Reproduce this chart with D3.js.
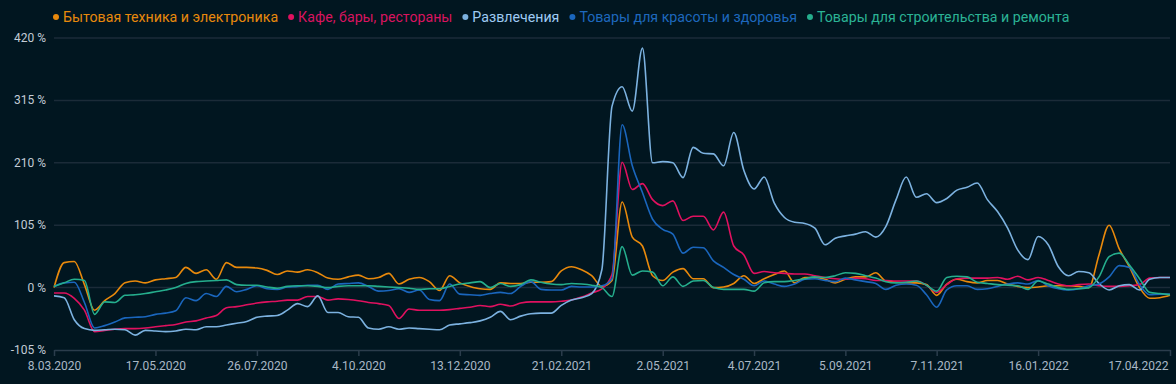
<!DOCTYPE html>
<html>
<head>
<meta charset="utf-8">
<script src="https://cdn.jsdelivr.net/npm/d3@7/dist/d3.min.js"></script>
<style>
  html, body { margin: 0; padding: 0; background: #011620; }
  svg { display: block; }
</style>
</head>
<body>
<div id="chart"></div>
<script>
// weekly data, % change
var startDate = new Date(2020, 2, 8);
var tickLabels = ["8.03.2020", "17.05.2020", "26.07.2020", "4.10.2020", "13.12.2020", "21.02.2021",
  "2.05.2021", "4.07.2021", "5.09.2021", "7.11.2021", "16.01.2022", "17.04.2022"];
var yTicks = [-105, 0, 105, 210, 315, 420];

var seriesNames = ["Бытовая техника и электроника", "Кафе, бары, рестораны", "Развлечения",
  "Товары для красоты и здоровья", "Товары для строительства и ремонта"];

var appliances = [0, 42, 44, 5, -38, -22, -10, 8, 11, 8, 13, 15, 17, 34, 24, 30, 14, 42, 34, 34,
  33, 29, 22, 28, 26, 30, 25, 16, 14, 18, 21, 15, 17, 24, 6, 14, 17, 10, -5, 20,
  8, 2, -2, -3, 8, 7, 7, 9, 9, 10, 28, 35, 30, 20, 2, 12, 144, 85, 70, 20,
  12, 26, 32, 15, 15, 0, 1, 7, 20, 7, 15, 22, 28, 8, 17, 17, 14, 8, 14, 18,
  18, 25, 11, 9, 8, 8, 5, -13, 6, 14, 10, 8, 12, 12, 6, 2, 0, 1, 3, 3,
  3, 2, 0, 55, 105, 65, 35, 0, -18, -17, -13];

var cafes = [-9, -9, -18, -38, -74, -72, -70, -69, -69, -68, -66, -64, -62, -58, -56, -51, -47, -34, -32, -29,
  -26, -24, -23, -21, -21, -15, -15, -21, -19, -20, -22, -25, -27, -30, -52, -36, -38, -38, -38, -37,
  -35, -33, -30, -32, -28, -31, -26, -24, -24, -24, -23, -21, -16, -9, -2, 22, 211, 165, 175, 148,
  138, 146, 113, 120, 120, 97, 127, 70, 55, 24, 27, 25, 24, 23, 23, 20, 17, 15, 14, 16,
  15, 12, 12, 11, 11, 11, 4, -8, 5, 15, 16, 16, 16, 17, 14, 19, 13, 17, 12, 6,
  3, 5, 6, 3, 2, 2, 3, 5, 16, 17, 17];

var entertainment = [-14, -17, -54, -69, -72, -71, -70, -71, -80, -72, -73, -74, -73, -70, -71, -66, -66, -63, -60, -57,
  -50, -48, -47, -38, -27, -32, -14, -42, -42, -49, -50, -68, -70, -66, -70, -68, -69, -70, -71, -63,
  -61, -59, -56, -50, -40, -54, -48, -44, -43, -43, -30, -21, -17, -10, 30, 305, 338, 297, 403, 210,
  212, 210, 185, 236, 226, 225, 205, 261, 197, 166, 186, 142, 118, 110, 108, 100, 72, 83, 87, 90,
  94, 85, 103, 148, 186, 152, 158, 143, 150, 164, 169, 176, 148, 128, 100, 63, 47, 86, 72, 35,
  20, 27, 25, 7, -4, 3, 5, -4, 14, 17, 17];

var beauty = [2, 8, 9, -25, -68, -64, -58, -51, -50, -49, -45, -43, -39, -17, -22, -10, -15, 2, -7, -3,
  3, -2, -3, 1, 2, 4, 4, -3, 6, 7, 8, 2, -6, -5, -2, -8, -4, -20, -22, 6,
  -11, -12, -13, -10, -8, -10, 2, 10, -3, -4, -4, 2, 1, 1, 3, 15, 274, 205, 160, 115,
  98, 90, 58, 68, 67, 45, 34, 22, 14, 3, 11, 6, 2, 6, 14, 15, 12, 10, 16, 13,
  10, 7, -3, 4, 6, 4, -12, -33, -4, 3, 3, -3, -2, 2, 6, 8, 6, 12, 3, -2,
  -4, -2, 3, 6, 18, 37, 34, 5, -12, -11, -11];

var building = [2, 8, 14, 12, -45, -24, -25, -13, -12, -10, -7, -4, 0, 7, 10, 11, 12, 13, 5, 4,
  4, 1, -1, 2, 3, 3, 2, 0, 2, 3, 3, 3, 2, 1, 0, -1, -3, -2, -2, 2,
  6, 8, 10, 0, 7, 2, 5, 13, 9, 6, 5, 7, 6, 4, 0, -15, 69, 21, 28, 26,
  3, 18, 2, 11, 12, 0, -3, -3, -3, -6, 8, 10, 10, 12, 15, 18, 17, 20, 25, 24,
  20, 16, 10, 8, 9, 11, 4, -6, 17, 19, 18, 9, 7, 5, 4, 3, -3, 11, 6, 0,
  -3, -2, 0, 18, 52, 58, 38, 15, -8, -10, -12];

var lineColors = ["#e8890c", "#e0115f", "#7cb2e0", "#1a66bd", "#25ae8d"];
var legendColors = ["#e8890c", "#d8145f", "#9fcbf3", "#1e68bd", "#2bb395"];

var svgWidth = 1176;
var svgHeight = 384;
var margin = { top: 38, right: 6, bottom: 34, left: 54 };

var svg = d3.select("#chart")
  .append("svg")
  .attr("width", svgWidth)
  .attr("height", svgHeight)
  .style("background", "#011620")
  .style("font-family", "Roboto, 'Noto Sans', sans-serif");

function weekDate(i) {
  var d = new Date(startDate);
  d.setDate(d.getDate() + 7 * i);
  return d;
}

function parseLabel(s) {
  var p = s.split(".");
  return new Date(+p[2], +p[1] - 1, +p[0]);
}

var allSeries = [appliances, cafes, entertainment, beauty, building];

var x = d3.scaleTime()
  .domain([startDate, weekDate(appliances.length - 1)])
  .range([margin.left, svgWidth - margin.right]);

var y = d3.scaleLinear()
  .domain([-105, 420])
  .range([svgHeight - margin.bottom, margin.top]);

// grid
svg.append("g")
  .selectAll("line")
  .data(yTicks.filter(function(t) { return t > -105; }))
  .enter().append("line")
  .attr("x1", margin.left)
  .attr("x2", svgWidth - margin.right)
  .attr("y1", function(d) { return y(d); })
  .attr("y2", function(d) { return y(d); })
  .attr("stroke", "#1b2b38")
  .attr("stroke-width", 1.5);

// y labels
svg.append("g")
  .selectAll("text")
  .data(yTicks)
  .enter().append("text")
  .attr("x", 46)
  .attr("y", function(d) { return y(d) + 4; })
  .attr("text-anchor", "end")
  .attr("fill", "#c3ccd6")
  .attr("font-size", 12)
  .text(function(d) { return d + " %"; });

// x axis
var xAxis = d3.axisBottom(x)
  .tickValues(tickLabels.map(parseLabel))
  .tickFormat(function(d, i) { return tickLabels[i]; })
  .tickSize(6)
  .tickSizeOuter(0);

var gx = svg.append("g")
  .attr("transform", "translate(0," + y(-105) + ")")
  .call(xAxis);
gx.select(".domain").attr("stroke", "#2b3d4c").attr("stroke-width", 1.5);
gx.selectAll(".tick line").attr("stroke", "#2b3d4c").attr("stroke-width", 1.5);
gx.selectAll(".tick text")
  .attr("fill", "#a9b8c6")
  .attr("font-size", 12)
  .attr("font-family", "Roboto, 'Noto Sans', sans-serif")
  .attr("dy", "0.95em");
// last label kept inside the chart
gx.selectAll(".tick text")
  .filter(function(d, i) { return i === tickLabels.length - 1; })
  .attr("text-anchor", "end")
  .attr("x", -2);

// lines
var line = d3.line()
  .x(function(d, i) { return x(weekDate(i)); })
  .y(function(d) { return y(d); })
  .curve(d3.curveMonotoneX);

svg.append("g")
  .selectAll("path")
  .data(allSeries)
  .enter().append("path")
  .attr("d", line)
  .attr("fill", "none")
  .attr("stroke", function(d, i) { return lineColors[i]; })
  .attr("stroke-width", 1.6);

// legend
var legend = svg.append("g").attr("transform", "translate(0,17)");
var lx = 53;
seriesNames.forEach(function(name, i) {
  legend.append("circle")
    .attr("cx", lx + 3)
    .attr("cy", 0)
    .attr("r", 3)
    .attr("fill", lineColors[i]);
  var t = legend.append("text")
    .attr("x", lx + 10)
    .attr("y", 5)
    .attr("fill", legendColors[i])
    .attr("font-size", 14.2)
    .text(name);
  lx += 10 + t.node().getComputedTextLength() + 10;
});
</script>
</body>
</html>
